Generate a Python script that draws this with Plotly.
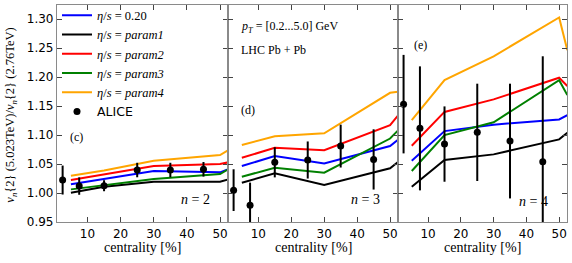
import plotly.graph_objects as go

# ---------------- data ----------------
model_cent = [5, 15, 30, 50, 52.5]
series_labels = ["<i>η</i>/<i>s</i> = 0.20", "<i>η</i>/<i>s</i> = <i>param1</i>",
                 "<i>η</i>/<i>s</i> = <i>param2</i>", "<i>η</i>/<i>s</i> = <i>param3</i>",
                 "<i>η</i>/<i>s</i> = <i>param4</i>"]
series_colors = ["#0000ff", "#000000", "#ff0000", "#008000", "#ffa500"]

# n = 2 (panel c)
n2_eta020 = [1.015, 1.024, 1.038, 1.0357, 1.041]
n2_param1 = [1.0006, 1.011, 1.0195, 1.0195, 1.0236]
n2_param2 = [1.0224, 1.0316, 1.0466, 1.050, 1.053]
n2_param3 = [1.0063, 1.0138, 1.024, 1.0328, 1.041]
n2_param4 = [1.0298, 1.039, 1.0557, 1.0655, 1.074]

# n = 3 (panel d)
n3_eta020 = [1.0466, 1.0638, 1.051, 1.081, 1.0925]
n3_param1 = [1.0178, 1.034, 1.0138, 1.0426, 1.054]
n3_param2 = [1.0609, 1.078, 1.074, 1.117, 1.1345]
n3_param3 = [1.028, 1.0437, 1.035, 1.094, 1.1086]
n3_param4 = [1.0828, 1.098, 1.103, 1.173, 1.1747]

# n = 4 (panel e)
n4_eta020 = [1.0557, 1.1069, 1.118, 1.127, 1.1345]
n4_param1 = [1.0109, 1.0569, 1.0667, 1.0926, 1.104]
n4_param2 = [1.0816, 1.140, 1.1616, 1.199, 1.1845]
n4_param3 = [1.038, 1.100, 1.122, 1.1948, 1.169]
n4_param4 = [1.1259, 1.1948, 1.236, 1.303, 1.2466]

alice_cent = [2.5, 7.5, 15, 25, 35, 45]
alice_n2 = [1.0224, 1.012, 1.0126, 1.0397, 1.0397, 1.041]
alice_n2_err = [0.025, 0.015, 0.0095, 0.0125, 0.0125, 0.0126]
alice_n3 = [1.005, 0.979, 1.053, 1.057, 1.081, 1.058]
alice_n3_err = [0.036, 0.039, 0.026, 0.032, 0.037, 0.052]
alice_n4 = [1.1534, 1.1116, 1.0845, 1.1047, 1.0897, 1.054]
alice_n4_err = [0.085, 0.107, 0.065, 0.084, 0.099, 0.182]

x_ticks = [10, 20, 30, 40, 50]
y_ticks = [0.95, 1.00, 1.05, 1.10, 1.15, 1.20, 1.25, 1.30]
x_range = [0.8, 52.4]
y_range = [0.95, 1.3245]

panels = [
    ("x", "y", [n2_eta020, n2_param1, n2_param2, n2_param3, n2_param4], alice_n2, alice_n2_err),
    ("x2", "y2", [n3_eta020, n3_param1, n3_param2, n3_param3, n3_param4], alice_n3, alice_n3_err),
    ("x3", "y3", [n4_eta020, n4_param1, n4_param2, n4_param3, n4_param4], alice_n4, alice_n4_err),
]

SERIF = "Liberation Serif, DejaVu Serif, serif"
SANS = "DejaVu Sans, sans-serif"

fig = go.Figure()
for pi, (xa, ya, model, adata, aerr) in enumerate(panels):
    for si, vals in enumerate(model):
        fig.add_trace(go.Scatter(
            x=model_cent, y=vals, mode="lines", xaxis=xa, yaxis=ya,
            line=dict(color=series_colors[si], width=2),
            name=series_labels[si], showlegend=(pi == 0), hoverinfo="skip"))
    fig.add_trace(go.Scatter(
        x=alice_cent, y=adata, mode="markers", xaxis=xa, yaxis=ya,
        marker=dict(color="black", size=7, symbol="circle"),
        error_y=dict(type="data", array=aerr, visible=True, color="black", thickness=2, width=0),
        name='<span style="font-family:DejaVu Sans">ALICE</span>', showlegend=(pi == 0)))

W = 510.0
H = 217.0
doms = [[0, 171 / W], [171 / W, 341 / W], [341 / W, 1]]
axis_common = dict(showline=True, mirror="ticks", linecolor="#8a8a8a", linewidth=1.2,
                   ticks="inside", ticklen=5, tickwidth=1, tickcolor="#444",
                   showgrid=False, zeroline=False, automargin=False)
layout = dict(
    width=572, height=263,
    margin=dict(l=57, r=5, t=5, b=41, autoexpand=False),
    plot_bgcolor="white", paper_bgcolor="white",
    showlegend=True,
    legend=dict(x=0.0, y=1.02, xanchor="left", yanchor="top", bgcolor="rgba(0,0,0,0)",
                font=dict(family=SERIF, size=12.5, color="black"), itemwidth=30,
                tracegroupgap=0),
)
for i, d in enumerate(doms):
    suf = "" if i == 0 else str(i + 1)
    layout["xaxis" + suf] = dict(domain=d, range=x_range, tickvals=x_ticks,
                                 ticktext=[str(t) for t in x_ticks],
                                 tickfont=dict(family=SANS, size=12, color="black"),
                                 anchor="y" + suf, **axis_common)
    layout["yaxis" + suf] = dict(range=y_range, tickvals=y_ticks,
                                 ticktext=["%.2f" % t for t in y_ticks],
                                 showticklabels=(i == 0),
                                 tickfont=dict(family=SANS, size=12, color="black"),
                                 anchor="x" + suf, **axis_common)
fig.update_layout(**layout)

ann = []
def add(text, xref, yref, x, y, xanchor="left", size=12, angle=0):
    ann.append(dict(text=text, xref=xref, yref=yref, x=x, y=y, xanchor=xanchor,
                    yanchor="middle", showarrow=False, textangle=angle,
                    font=dict(family=SERIF, size=size, color="black")))

add("(c)", "x", "y", 4.0, 1.0966)
add("(d)", "x2", "y2", 4.1, 1.143)
add("(e)", "x3", "y3", 5.0, 1.255)
add("<i>n</i> = 2", "x", "y", 47.6, 0.988, xanchor="right", size=14)
add("<i>n</i> = 3", "x2", "y2", 47.6, 0.988, xanchor="right", size=14)
add("<i>n</i> = 4", "x3", "y3", 47.3, 0.985, xanchor="right", size=14)
add("<i>p</i><sub><i>T</i></sub> = [0.2...5.0] GeV", "x2", "y2", 4.2, 1.286)
add("LHC Pb + Pb", "x2", "y2", 4.2, 1.2466)
for d in doms:
    add("centrality [%]", "paper", "paper", (d[0] + d[1]) / 2, -25 / H, xanchor="center", size=14)
add("<i>v</i><sub><i>n</i></sub>{2} (5.023TeV)/<i>v</i><sub><i>n</i></sub>{2} (2.76TeV)",
    "paper", "paper", -46 / W, 0.49, xanchor="center", size=12.5, angle=-90)
fig.update_layout(annotations=ann)

fig.write_html("out.html", config={"displayModeBar": False},
               post_script="document.body.style.margin='0px';")
